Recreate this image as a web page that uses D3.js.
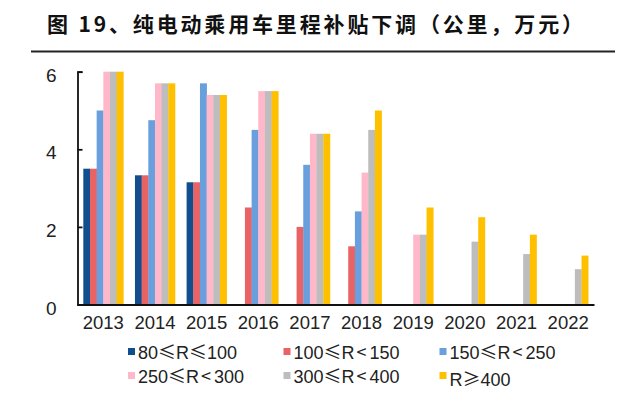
<!DOCTYPE html>
<html>
<head>
<meta charset="utf-8">
<script src="https://cdn.jsdelivr.net/npm/d3@7"></script>
<style>
  html, body { margin: 0; padding: 0; background: #fff; }
  svg { display: block; }
</style>
</head>
<body>
<svg id="chart" width="640" height="399"></svg>
<script>
const titleText = "图 19、纯电动乘用车里程补贴下调（公里，万元）";
const years = ["2013","2014","2015","2016","2017","2018","2019","2020","2021","2022"];
const seriesNames = ["80≤R≤100","100≤R<150","150≤R<250","250≤R<300","300≤R<400","R≥400"];
const s80 = [3.5, 3.33, 3.15, null, null, null, null, null, null, null];
const s100 = [3.5, 3.33, 3.15, 2.5, 2.0, 1.5, null, null, null, null];
const s150 = [5.0, 4.75, 5.7, 4.5, 3.6, 2.4, null, null, null, null];
const s250 = [6.0, 5.7, 5.4, 5.5, 4.4, 3.4, 1.8, null, null, null];
const s300 = [6.0, 5.7, 5.4, 5.5, 4.4, 4.5, 1.8, 1.62, 1.3, 0.91];
const s400 = [6.0, 5.7, 5.4, 5.5, 4.4, 5.0, 2.5, 2.25, 1.8, 1.26];
const yTicks = [0, 2, 4, 6];
const colors = ["#104E8F", "#E96364", "#6A9FDE", "#FFB8C9", "#BDBDBD", "#FFC000"];

const seriesValues = [s80, s100, s150, s250, s300, s400];

const svg = d3.select("#chart");
const latin = "'Liberation Sans', Arial, sans-serif";
const cjk = "'Noto Sans CJK SC', sans-serif";

// Title
svg.append("text")
  .attr("x", 47).attr("y", 32)
  .attr("font-family", cjk)
  .attr("font-weight", "bold")
  .attr("font-size", 21)
  .attr("fill", "#111")
  .attr("textLength", 536)
  .attr("lengthAdjust", "spacing")
  .text(titleText);
svg.append("line")
  .attr("x1", 31).attr("x2", 615).attr("y1", 51.5).attr("y2", 51.5)
  .attr("stroke", "#222").attr("stroke-width", 2);

// Scales
const x0 = d3.scaleBand().domain(years).range([77.5, 594]).paddingInner(0.225).paddingOuter(0.1125);
const x1 = d3.scaleBand().domain(seriesNames).range([0, x0.bandwidth()]).padding(0);
const y = d3.scaleLinear().domain([0, 6]).range([304.5, 71.7]);

// Bars
const barData = [];
seriesValues.forEach((vals, si) => {
  vals.forEach((v, yi) => {
    if (v != null) barData.push({ year: years[yi], series: seriesNames[si], value: v, si });
  });
});
svg.append("g").selectAll("rect").data(barData).join("rect")
  .attr("x", d => x0(d.year) + x1(d.series))
  .attr("y", d => y(d.value))
  .attr("width", x1.bandwidth() + 0.3)
  .attr("height", d => y(0) - y(d.value))
  .attr("fill", d => colors[d.si]);

// Y axis
const yAxis = svg.append("g").attr("transform", "translate(77.5,0)")
  .call(d3.axisLeft(y).tickValues(yTicks).tickFormat(d3.format("d")).tickSizeInner(-5).tickSizeOuter(-5).tickPadding(21));
yAxis.select(".domain").attr("stroke", "#111").attr("stroke-width", 1.8);
yAxis.selectAll(".tick line").attr("stroke", "#111").attr("stroke-width", 1.8);
yAxis.selectAll(".tick text")
  .attr("font-family", latin).attr("font-size", 19).attr("fill", "#222")
  .attr("dy", "0.5em");

// X axis
const xAxis = svg.append("g").attr("transform", "translate(0,304.5)")
  .call(d3.axisBottom(x0).tickSize(0).tickPadding(11));
xAxis.select(".domain").attr("stroke", "#111").attr("stroke-width", 2);
xAxis.selectAll(".tick text")
  .attr("font-family", latin).attr("font-size", 18.5).attr("fill", "#222");

// Legend
const legendCols = [128, 283.5, 439.5];
const legendRows = [352, 376];
const leg = svg.append("g");
seriesNames.forEach((name, i) => {
  const cx = legendCols[i % 3];
  const cy = legendRows[Math.floor(i / 3)];
  leg.append("rect").attr("x", cx).attr("y", cy - 4).attr("width", 7).attr("height", 7).attr("fill", colors[i]);
  const t = leg.append("text")
    .attr("x", cx + 10).attr("y", cy + 6.5 + (name.includes("≥") ? 3 : 0))
    .attr("font-family", latin).attr("font-size", 18).attr("fill", "#222");
  name.split(/([≤<≥])/).filter(s => s.length).forEach(part => {
    const isSym = /[≤<≥]/.test(part);
    const sp = t.append("tspan").attr("font-family", isSym ? cjk : latin).text(part);
    if (part === "<") sp.attr("dx", 2).attr("letter-spacing", 3);
  });
});
</script>
</body>
</html>
